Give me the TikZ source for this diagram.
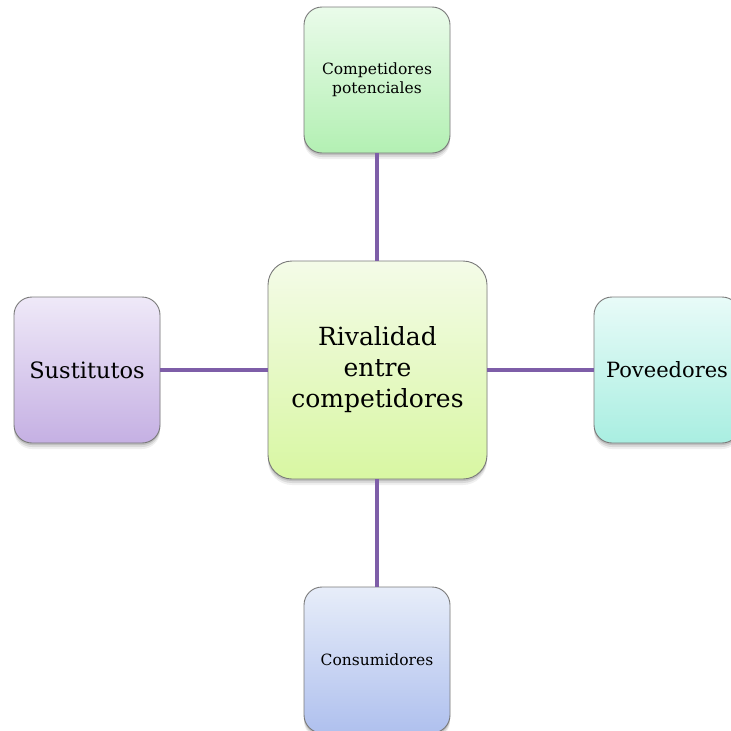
\documentclass[tikz,border=0pt]{standalone}
\usepackage{fontspec}
\setmainfont{DejaVu Serif}
\usetikzlibrary{shadows}
\definecolor{linkc}{HTML}{7E5EA8}
\definecolor{edgec}{HTML}{7A7A7A}
\definecolor{cTop}{HTML}{F4FBE8}\definecolor{cBot}{HTML}{D8F7A2}
\definecolor{tTop}{HTML}{EAFBEA}\definecolor{tBot}{HTML}{B3F0B3}
\definecolor{lTop}{HTML}{EFE9F8}\definecolor{lBot}{HTML}{C5B0E3}
\definecolor{rTop}{HTML}{E8FBF8}\definecolor{rBot}{HTML}{A9EEE1}
\definecolor{bTop}{HTML}{E7EDF9}\definecolor{bBot}{HTML}{AFC0EE}
\tikzset{
  box/.style={draw=edgec, line width=0.9pt, rounded corners=18pt, shading=axis,
    minimum width=146pt, minimum height=146pt, align=center, inner sep=2pt,
    drop shadow={shadow xshift=0pt, shadow yshift=-2pt, opacity=0.12, fill=black},
    drop shadow={shadow xshift=0pt, shadow yshift=-4pt, opacity=0.09, fill=black},
    drop shadow={shadow xshift=0pt, shadow yshift=-6pt, opacity=0.06, fill=black}},
  bigbox/.style={box, rounded corners=24pt, minimum width=219pt, minimum height=218pt},
  link/.style={draw=linkc, line width=4.5pt}
}
\begin{document}
\begin{tikzpicture}[x=1pt,y=-1pt]
\useasboundingbox (0,0) rectangle (731,731);
\clip (0,0) rectangle (731,731);
\fill[white] (0,0) rectangle (731,731);
\node[bigbox, top color=cTop, bottom color=cBot, font=\fontsize{25}{31}\selectfont] (c) at (377.5,370) {Rivalidad\\entre\\competidores};
\node[box, top color=tTop, bottom color=tBot, font=\fontsize{15.5}{19}\selectfont] (t) at (377,80) {Competidores\\potenciales};
\node[box, top color=lTop, bottom color=lBot, font=\fontsize{22.5}{26}\selectfont] (l) at (87,370) {Sustitutos};
\node[box, top color=rTop, bottom color=rBot, font=\fontsize{21}{26}\selectfont] (r) at (667,370) {Poveedores};
\node[box, top color=bTop, bottom color=bBot, font=\fontsize{15.5}{19}\selectfont] (b) at (377,660) {Consumidores};
\draw[link] (t.south) -- (t.south |- c.north);
\draw[link] (c.south -| b.north) -- (b.north);
\draw[link] (l.east) -- (l.east -| c.west);
\draw[link] (c.east) -- (c.east -| r.west);
\end{tikzpicture}
\end{document}
